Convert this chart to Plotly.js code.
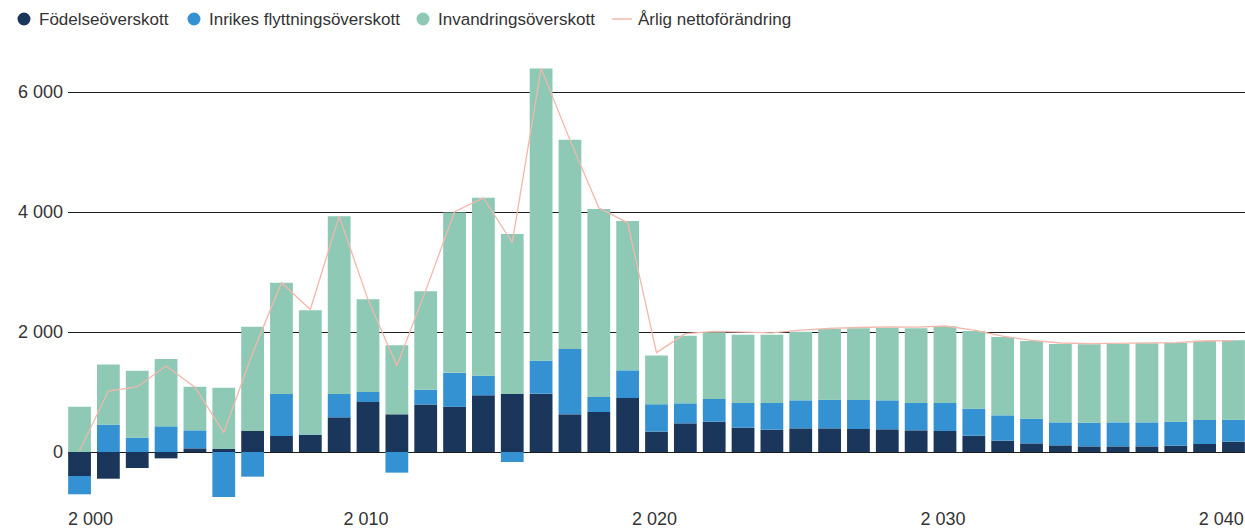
<!DOCTYPE html>
<html>
<head>
<meta charset="utf-8">
<script src="https://cdn.plot.ly/plotly-3.0.1.min.js"></script>
<style>
  html, body { margin: 0; padding: 0; background: #ffffff; }
  #chart { width: 1245px; height: 531px; }
</style>
</head>
<body>
<div id="chart"></div>
<script>
const years = [];
for (let y = 2000; y <= 2040; y++) years.push(y);

const seriesNames = ["Födelseöverskott", "Inrikes flyttningsöverskott", "Invandringsöverskott", "Årlig nettoförändring"];

const fodelse = [-400, -445, -267, -106, 61, 50, 356, 267, 283, 578,
  833, 628, 792, 753, 944, 967, 972, 628, 667, 900,
  340, 478, 506, 406, 372, 394, 394, 383, 378, 361,
  350, 272, 189, 144, 111, 94, 94, 94, 106, 133, 172];

const inrikes = [-305, 455, 239, 428, 300, -750, -411, 700, 10, 389,
  167, -344, 245, 566, 328, -167, 550, 1089, 250, 461,
  456, 333, 377, 411, 445, 467, 478, 484, 483, 456,
  467, 450, 422, 412, 383, 395, 400, 400, 400, 400, 367];

const invandring = [755, 1005, 1117, 1122, 728, 1022, 1733, 1855, 2068, 2961,
  1544, 1150, 1643, 2673, 2964, 2666, 4872, 3489, 3133, 2489,
  812, 1128, 1112, 1139, 1139, 1145, 1178, 1194, 1211, 1244,
  1278, 1295, 1306, 1294, 1306, 1305, 1306, 1317, 1311, 1323, 1322];

const netto = [20, 1017, 1089, 1433, 1080, 322, 1650, 2822, 2375, 3928,
  2540, 1439, 2690, 4005, 4236, 3489, 6394, 5200, 4070, 3820,
  1656, 1972, 2011, 1995, 1985, 2030, 2060, 2075, 2085, 2080,
  2100, 2030, 1930, 1861, 1817, 1806, 1808, 1815, 1822, 1850, 1858];

const tickYears = [2000, 2010, 2020, 2030, 2040];
const yTicks = [0, 2000, 4000, 6000];

const colors = ["#1b365b", "#3592d2", "#8dc9b5", "#f3b7ab"];
const font = "'Liberation Sans', Arial, sans-serif";

function fmt(n) {
  return String(n).replace(/\B(?=(\d{3})+(?!\d))/g, " ");
}

const W = 1245, H = 531;
const M = { l: 68, r: 0, t: 55, b: 28 };
const plotW = W - M.l - M.r, plotH = H - M.t - M.b;
const px2x = p => (p - M.l) / plotW;
const py2y = p => 1 + (M.t - p) / plotH;

const barSeries = [fodelse, inrikes, invandring];
const traces = [];
barSeries.forEach((vals, i) => {
  traces.push({
    type: "bar", x: years, y: vals, name: seriesNames[i],
    marker: { color: colors[i], line: { width: 0 } },
    showlegend: false
  });
});
traces.push({
  type: "scatter", mode: "lines", x: years, y: netto, name: seriesNames[3],
  line: { color: colors[3], width: 1.3 }, showlegend: false
});

// hand-built legend (dots for bars, short line for net change)
const legendSymbolX = [24, 194, 423, 622];
const legendTextX = [38, 208, 437, 637];
const legendY = 19;
const shapes = [];
const annotations = [];
seriesNames.forEach((name, i) => {
  if (i < 3) {
    shapes.push({
      type: "circle", xref: "paper", yref: "paper",
      xsizemode: "pixel", ysizemode: "pixel",
      xanchor: px2x(legendSymbolX[i]), yanchor: py2y(legendY),
      x0: -6.5, x1: 6.5, y0: -6.5, y1: 6.5,
      fillcolor: colors[i], line: { width: 0 }
    });
  } else {
    shapes.push({
      type: "line", xref: "paper", yref: "paper",
      x0: px2x(legendSymbolX[i] - 10), x1: px2x(legendSymbolX[i] + 10),
      y0: py2y(legendY), y1: py2y(legendY),
      line: { color: colors[i], width: 1.5 }
    });
  }
  annotations.push({
    xref: "paper", yref: "paper", x: px2x(legendTextX[i]), y: py2y(legendY),
    xanchor: "left", yanchor: "middle", showarrow: false, text: name,
    font: { family: font, size: 17, color: "#333333" }, borderpad: 0
  });
});

// edge labels pulled inward so they stay inside the canvas
const tickPos = tickYears.map((y, i) => i === 0 ? y + 0.38 : (i === tickYears.length - 1 ? y - 0.42 : y - 0.07));

const layout = {
  width: W, height: H,
  margin: { l: M.l, r: M.r, t: M.t, b: M.b, pad: 0 },
  paper_bgcolor: "#ffffff", plot_bgcolor: "#ffffff",
  barmode: "relative", bargap: 0.21,
  font: { family: font, size: 17, color: "#333333" },
  showlegend: false,
  shapes: shapes,
  annotations: annotations,
  xaxis: {
    range: [1999.6, 2040.4], tickmode: "array",
    tickvals: tickPos, ticktext: tickYears.map(fmt),
    showgrid: false, zeroline: false, showline: false, ticks: "",
    ticklabelstandoff: 3,
    tickfont: { family: font, size: 18, color: "#333333" },
    fixedrange: true
  },
  yaxis: {
    range: [-850, 6617], tickmode: "array",
    tickvals: yTicks, ticktext: yTicks.map(fmt),
    showgrid: true, gridcolor: "#1e1e1e", gridwidth: 1,
    zeroline: true, zerolinecolor: "#1e1e1e", zerolinewidth: 1,
    showline: false, ticks: "", ticklabelstandoff: 4,
    tickfont: { family: font, size: 18, color: "#333333" },
    fixedrange: true
  }
};

Plotly.newPlot("chart", traces, layout, { displayModeBar: false, staticPlot: true });
</script>
</body>
</html>
